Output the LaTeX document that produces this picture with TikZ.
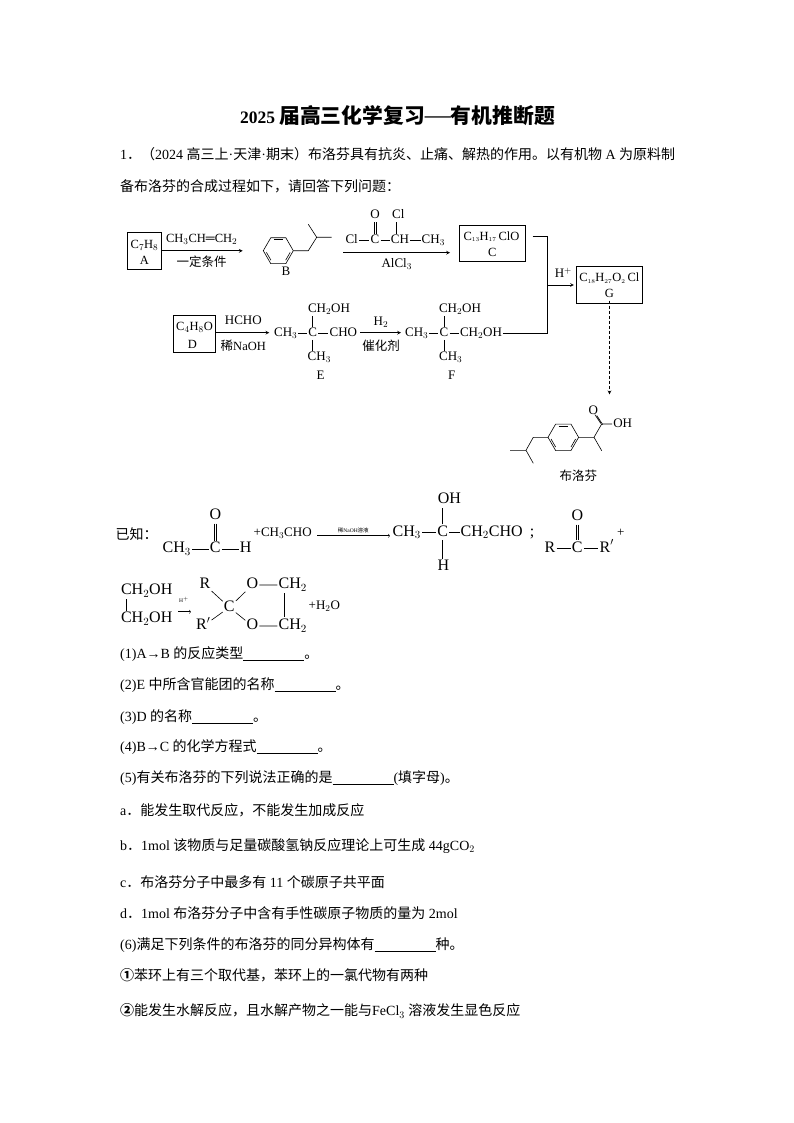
\documentclass[tikz,border=0pt]{standalone}
\usepackage{fontspec}
\usepackage{amsmath}
\setmainfont{Liberation Serif}
\newfontfamily\cjk{Noto Sans CJK SC}
\usetikzlibrary{arrows,calc,positioning}
\newcommand{\cn}[1]{{\cjk #1}}
\newcommand{\blank}{\rule[-2pt]{61pt}{0.6pt}}
\newcommand{\dblbond}[2]{\draw[bond] ([xshift=-1.1pt]#1.south) -- ([xshift=-1.1pt]#1.south |- #2.north) ([xshift=1.1pt]#1.south) -- ([xshift=1.1pt]#1.south |- #2.north);}
\tikzset{%
	qline/.style   = {anchor=west, inner sep=0pt, font=\fontsize{14}{16}\selectfont},
	atom/.style    = {inner sep=1pt, text height=8.5pt, text depth=2pt, font=\fontsize{13}{15}\selectfont},
	boxtext/.style = {inner sep=0pt, font=\fontsize{12.5}{15}\selectfont},
	bigatom/.style = {inner sep=1pt, text height=10.5pt, text depth=3pt, font=\fontsize{16}{18}\selectfont},
	lab/.style     = {inner sep=0pt, font=\fontsize{12.5}{14}\selectfont},
	formbox/.style = {draw, line width=0.7pt, minimum width=34pt, minimum height=37pt},
	bond/.style    = {line width=0.6pt},
	arrow/.style   = {line width=0.7pt, -stealth},
	thin arrow/.style = {line width=0.5pt, ->},
}
\begin{document}
\begin{tikzpicture}[x=1pt,y=-1pt]
	\useasboundingbox (0,0) rectangle (794,1123);
	\node[inner sep=0pt,font=\fontsize{17.5}{20}\selectfont\bfseries] (title) at (397.5,116) {2025 {\fontsize{20.8}{22}\selectfont\cn{届高三化学复习}{\mdseries\fontsize{26}{26}\selectfont —}\cn{有机推断题}}};
	\node[qline] (intro1) at (120,154) {1\cn{．（}2024 \cn{高三上}·\cn{天津}·\cn{期末）布洛芬具有抗炎、止痛、解热的作用。以有机物} A \cn{为原料制}};
	\node[qline] (intro2) at (120,186) {\cn{备布洛芬的合成过程如下，请回答下列问题：}};

	\node[formbox,minimum width=34.4pt] (boxA) at (144.5,250.8) {};
	\node[boxtext] (textA) at (144.5,245) {C$_7$H$_8$};
	\node[boxtext] (nameA) at (144.5,260) {A};
	\coordinate (endA) at (242.7,250.8);
	\draw[arrow] (boxA) -- (endA);
	\node[boxtext] (reagA) at (201.7,239.3) {CH$_3$CH═CH$_2$};
	\node[lab] (condA) at (201.7,261.7) {\cn{一定条件}};

	\coordinate (ringB) at (278.3,250.7);
	\draw[bond,shift={(ringB)}] (0:15) -- (60:15) -- (120:15) -- (180:15) -- (240:15) -- (300:15) -- cycle;
	\foreach \a in {240,0,120} \draw[bond,shift={(ringB)}] (\a+8:12) -- (\a+52:12);
	\draw[bond] (293.3,250.7) -- (308.3,250.7) -- (316.7,237.3) -- (308.3,224.3) (316.7,237.3) -- (331.7,237.3);
	\node[atom] (nameB) at (286,272.3) {B};

	\node[atom] (clA) at (351.7,240.7) {Cl};
	\node[atom] (carbC) at (375,240.7) {C};
	\node[atom] (chC) at (400,240.7) {CH};
	\node[atom] (meC) at (433.3,240.7) {CH$_3$};
	\node[atom] (oxC) at (375,215.7) {O};
	\node[atom] (clB) at (398.3,215.7) {Cl};
	\draw[bond] (clA) -- (carbC) (carbC) -- (chC) (chC) -- (meC);
	\dblbond{oxC}{carbC}
	\draw[bond] ([xshift=-2pt]clB.south) -- ([xshift=-2pt]clB.south |- chC.north);
	\coordinate (startB) at (343.3,252.7);
	\coordinate (endB) at (450,252.7);
	\draw[arrow] (startB) -- (endB);
	\node[atom] (condB) at (396.7,264.5) {AlCl$_3$};

	\node[formbox,minimum width=66.4pt,minimum height=36.4pt] (boxC) at (492.5,243.5) {};
	\node[boxtext] (textC) at (491.5,236.7) {C$_{\scriptscriptstyle 13}$H$_{\scriptscriptstyle 17}$\,ClO};
	\node[boxtext] (nameC) at (492.3,252.7) {C};

	\node[formbox,minimum width=66.4pt,minimum height=36.6pt] (boxG) at (609.5,285) {};
	\node[boxtext] (textG) at (609.3,278.3) {C$_{\scriptscriptstyle 18}$H$_{\scriptscriptstyle 27}$O$_{\scriptscriptstyle 2}$\,Cl};
	\node[boxtext] (nameG) at (609.3,293.3) {G};

	\node[formbox,minimum width=42.4pt,minimum height=36.6pt] (boxD) at (194.5,334) {};
	\node[boxtext] (textD) at (194.5,327) {C$_4$H$_8$O};
	\node[boxtext] (nameD) at (192.3,344) {D};
	\coordinate (endD) at (269.3,332.7);
	\draw[arrow] (boxD.east |- endD) -- (endD);
	\node[atom] (reagD) at (243.3,321.7) {HCHO};
	\node[lab] (condD) at (243.3,346) {\cn{稀}NaOH};

	\node[atom] (meE) at (285.7,333.3) {CH$_3$};
	\node[atom] (carbE) at (312.7,333.3) {C};
	\node[atom] (choE) at (343.3,333.3) {CHO};
	\node[atom] (topE) at (329,309.3) {CH$_2$OH};
	\node[atom] (botE) at (319.3,357.3) {CH$_3$};
	\node[atom] (nameE) at (320.7,376) {E};
	\draw[bond] (meE) -- (carbE) (carbE) -- (choE);
	\draw[bond] (carbE.north) -- (carbE.north |- topE.south) (carbE.south) -- (carbE.south |- botE.north);
	\coordinate (startE) at (360,332.7);
	\coordinate (endE) at (401,332.7);
	\draw[arrow] (startE) -- (endE);
	\node[atom] (reagE) at (381,322.3) {H$_2$};
	\node[lab] (condE) at (381,346) {\cn{催化剂}};

	\node[atom] (meF) at (416.7,333.3) {CH$_3$};
	\node[atom] (carbF) at (444,333.3) {C};
	\node[atom] (alcF) at (481,333.3) {CH$_2$OH};
	\node[atom] (topF) at (460,309.3) {CH$_2$OH};
	\node[atom] (botF) at (450.7,357.3) {CH$_3$};
	\node[atom] (nameF) at (451.7,376) {F};
	\draw[bond] (meF) -- (carbF) (carbF) -- (alcF);
	\draw[bond] (carbF.north) -- (carbF.north |- topF.south) (carbF.south) -- (carbF.south |- botF.north);

	\coordinate (joint) at (547.3,285);
	\draw[line width=0.7pt] ([xshift=6.5pt]boxC.east |- textC) -| (joint) |- (alcF.east);
	\draw[arrow] (joint) -- ([xshift=-2pt]boxG.west);
	\node[atom] (acid) at (563.3,274.3) {H$^+$};
	\coordinate (endG) at (609.5,394.3);
	\draw[arrow,densely dashed] ([yshift=3pt]boxG.south) -- (endG);

	\coordinate (ringP) at (563.3,437.3);
	\draw[bond,shift={(ringP)}] (0:15.3) -- (60:15.3) -- (120:15.3) -- (180:15.3) -- (240:15.3) -- (300:15.3) -- cycle;
	\foreach \a in {240,0,120} \draw[bond,shift={(ringP)}] (\a+8:12.4) -- (\a+52:12.4);
	\node[atom] (ohP) at (622.7,424) {OH};
	\node[atom] (oxP) at (593.3,411) {O};
	\coordinate (carbP) at (601.7,424);
	\draw[bond] (548,437.3) -- (533.3,437.3) -- (526,450.3) -- (510,450.3) (526,450.3) -- (533.3,463.3);
	\draw[bond] (578.6,437.3) -- (594,437.3) -- (carbP) -- (ohP) (594,437.3) -- (601.7,450.7);
	\draw[bond] ($(carbP)+(-1,-0.6)$) -- ($(oxP)+(1.5,3.5)$) ($(carbP)+(1,0.6)$) -- ($(oxP)+(3.5,4.5)$);
	\node[lab] (nameP) at (578.3,476) {\cn{布洛芬}};

	\node[inner sep=0pt,font=\fontsize{14}{16}\selectfont] (known) at (136.7,534) {\cn{已知：}};
	\node[bigatom] (meK) at (176.7,549) {CH$_3$};
	\node[bigatom] (carbK) at (215.3,549) {C};
	\node[bigatom] (hK) at (245.7,549) {H};
	\node[bigatom] (oxK) at (215.3,515.7) {O};
	\draw[bond] (meK) -- (carbK) (carbK) -- (hK);
	\dblbond{oxK}{carbK}
	\node[atom,font=\fontsize{13}{14}\selectfont] (addK) at (282.7,533.7) {+CH$_3$CHO};
	\coordinate (startK) at (317.3,535.7);
	\coordinate (endK) at (390,535.7);
	\draw[thin arrow] (startK) -- (endK);
	\node[inner sep=0pt,font=\fontsize{5.5}{5.5}\selectfont] (condK) at (353.3,530.7) {\cn{稀}NaOH\cn{溶液}};
	\node[bigatom] (meL) at (406.7,532.3) {CH$_3$};
	\node[bigatom] (carbL) at (442.7,532.3) {C};
	\node[bigatom] (choL) at (491.7,532.3) {CH$_2$CHO};
	\node[bigatom,inner sep=0pt] (semi) at (532,532.3) {;};
	\node[bigatom] (ohL) at (449.3,500) {OH};
	\node[bigatom] (hL) at (443.3,566.7) {H};
	\draw[bond] (meL) -- (carbL) (carbL) -- (choL);
	\draw[bond] (carbL.north) -- (carbL.north |- ohL.south) (carbL.south) -- (carbL.south |- hL.north);
	\node[bigatom] (rA) at (550,548.3) {R};
	\node[bigatom] (carbR) at (577.3,548.3) {C};
	\node[bigatom] (rB) at (606.7,548.3) {R$'$};
	\node[bigatom] (oxR) at (577.3,516.7) {O};
	\draw[bond] (rA) -- (carbR) (carbR) -- (rB);
	\dblbond{oxR}{carbR}
	\node[atom] (plusR) at (620.7,533.3) {+};

	\node[bigatom] (glyA) at (146.7,591) {CH$_2$OH};
	\node[bigatom] (glyB) at (146.7,619) {CH$_2$OH};
	\draw[bond] (126.7,599) -- (126.7,611);
	\coordinate (startM) at (178.3,611.7);
	\coordinate (endM) at (191,611.7);
	\draw[thin arrow] (startM) -- (endM);
	\node[inner sep=0pt,font=\fontsize{5.5}{5.5}\selectfont] (condM) at (184,600) {H$^+$};
	\node[bigatom] (rC) at (205,585) {R};
	\node[bigatom] (carbM) at (229.3,607.3) {C};
	\node[bigatom] (rD) at (203.3,626) {R$'$};
	\node[bigatom] (oxA) at (252.3,585) {O};
	\node[bigatom] (oxB) at (252.3,626) {O};
	\node[bigatom] (chA) at (292.7,585) {CH$_2$};
	\node[bigatom] (chB) at (292.7,626) {CH$_2$};
	\draw[bond] (rC) -- (carbM) (rD) -- (carbM) (carbM) -- (oxA) (carbM) -- (oxB) (oxA) -- (chA) (oxB) -- (chB);
	\draw[bond] (284,593) -- (284,617);
	\node[atom,font=\fontsize{13}{14}\selectfont] (addM) at (324.3,606.7) {+H$_2$O};

	\foreach \ypos/\txt [count=\i] in {%
		654/{(1)A→B \cn{的反应类型}\blank\cn{。}},
		685/{(2)E \cn{中所含官能团的名称}\blank\cn{。}},
		716.7/{(3)D \cn{的名称}\blank\cn{。}},
		747.5/{(4)B→C \cn{的化学方程式}\blank\cn{。}},
		777.7/{(5)\cn{有关布洛芬的下列说法正确的是}\blank(\cn{填字母})\cn{。}},
		810/{a\cn{．能发生取代反应，不能发生加成反应}},
		846/{b\cn{．}1mol \cn{该物质与足量碳酸氢钠反应理论上可生成} 44gCO$_2$},
		881.7/{c\cn{．布洛芬分子中最多有} 11 \cn{个碳原子共平面}},
		912.7/{d\cn{．}1mol \cn{布洛芬分子中含有手性碳原子物质的量为} 2mol},
		945/{(6)\cn{满足下列条件的布洛芬的同分异构体有}\blank\cn{种。}},
		975.7/{\cn{\bfseries ①}\cn{苯环上有三个取代基，苯环上的一氯代物有两种}},
		1011/{\cn{\bfseries ②}\cn{能发生水解反应，且水解产物之一能与}FeCl$_3$ \cn{溶液发生显色反应}}}
		\node[qline] (q\i) at (120,\ypos) {\txt};
\end{tikzpicture}
\end{document}
